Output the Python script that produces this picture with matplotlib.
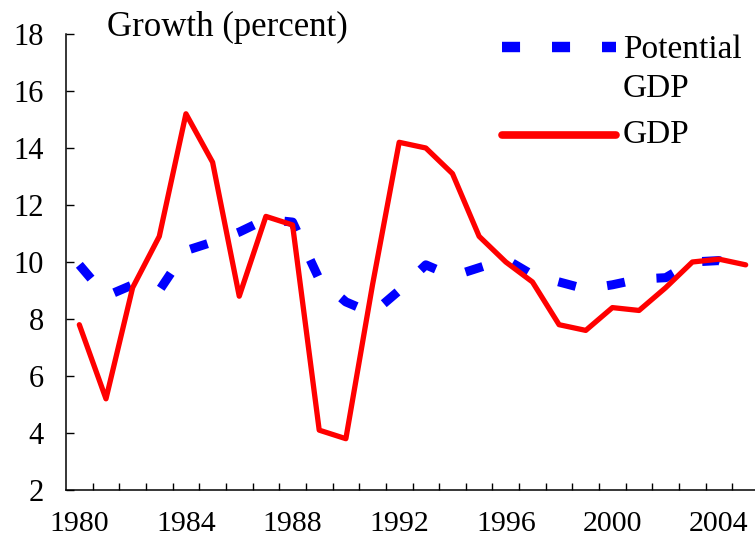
import matplotlib

matplotlib.use("Agg")
import matplotlib.pyplot as plt
from matplotlib.lines import Line2D
from matplotlib.ticker import FixedLocator, MultipleLocator

plt.rcParams["font.family"] = ["Liberation Serif", "DejaVu Serif"]
plt.rcParams["lines.scale_dashes"] = False

years = list(range(1980, 2006))
gdp = [7.8, 5.2, 9.1, 10.9, 15.2, 13.5, 8.8, 11.6, 11.3, 4.1, 3.8, 9.2, 14.2,
       14.0, 13.1, 10.9, 10.0, 9.3, 7.8, 7.6, 8.4, 8.3, 9.1, 10.0, 10.1, 9.9]
potential = [9.9, 8.8, 9.2, 9.0, 10.4, 10.7, 11.05, 11.5, 11.4, 9.4, 8.6, 8.2, 9.0,
             9.9, 9.5, 9.8, 10.1, 9.55, 9.3, 9.05, 9.2, 9.4, 9.45, 10.0, 10.05, 9.7]
year_labels = [str(y) for y in years[::4]]

W, H = 755, 544
DASH = (0, (13, 23))  # points, unscaled

fig = plt.figure(figsize=(W / 100, H / 100), dpi=100)
# axes run past the right edge, as in the cropped original
ax = fig.add_axes((66 / W, 54 / H, 693 / W, 456 / H))

idx = list(range(len(years)))
ax.plot(idx, potential, color="#0000ff", lw=6.5, linestyle=DASH,
        dash_capstyle="butt", zorder=2)
ax.plot(idx, gdp, color="#ff0000", lw=3.8, solid_joinstyle="round",
        solid_capstyle="round", zorder=3)

ax.set_xlim(-0.5, len(years) - 0.5)
ax.set_ylim(2, 18)
ax.yaxis.set_major_locator(MultipleLocator(2))
ax.xaxis.set_major_locator(FixedLocator(idx[::4]))
ax.set_xticklabels(year_labels)
ax.xaxis.set_minor_locator(FixedLocator([i + 0.5 for i in idx]))

for side in ("top", "right"):
    ax.spines[side].set_visible(False)
for side in ("left", "bottom"):
    ax.spines[side].set_linewidth(1.1)

ax.tick_params(axis="x", which="major", length=0, pad=15, labelsize=21.5)
ax.tick_params(axis="x", which="minor", direction="in", length=5, width=1)
ax.tick_params(axis="y", direction="in", length=5.5, width=1, pad=16, labelsize=22)

fig.text(107 / W, 1 - 36 / H, "Growth (percent)", fontsize=25, va="baseline")

# legend drawn by hand to follow the original layout
fig.add_artist(Line2D([502 / W, 616 / W], [1 - 47 / H, 1 - 47 / H],
                      transform=fig.transFigure, color="#0000ff", lw=7.5,
                      linestyle=DASH, dash_capstyle="butt"))
fig.add_artist(Line2D([502 / W, 616 / W], [1 - 135 / H, 1 - 135 / H],
                      transform=fig.transFigure, color="#ff0000", lw=5.5,
                      solid_capstyle="round"))
fig.text(623 / W, 1 - 58 / H, "Potential", fontsize=24, va="baseline")
fig.text(623 / W, 1 - 97 / H, "GDP", fontsize=24, va="baseline")
fig.text(623 / W, 1 - 143 / H, "GDP", fontsize=24, va="baseline")

fig.savefig("out.png", dpi=100)
